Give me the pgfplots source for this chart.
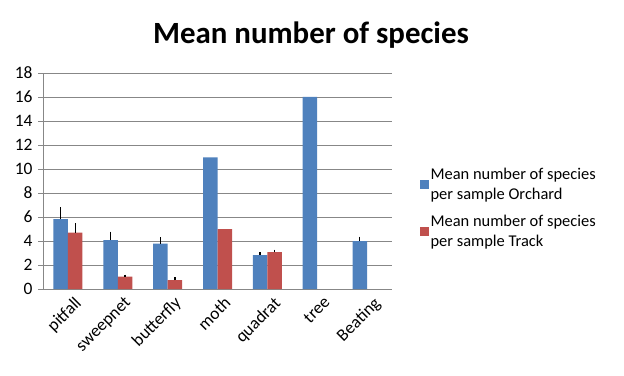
\documentclass[border=0pt]{standalone}
\usepackage{pgfplots}
\pgfplotsset{compat=1.18}
\usepackage{fontspec}
\setmainfont{Carlito}
\definecolor{cblue}{HTML}{4F81BD}
\definecolor{cred}{HTML}{C0504D}
\definecolor{cgrid}{HTML}{878787}
\begin{document}
\begin{tikzpicture}[x=1bp,y=1bp]
\useasboundingbox (0,0) rectangle (624,375);
\begin{axis}[
  at={(43bp,86bp)}, anchor=south west,
  scale only axis, width=349bp, height=216bp,
  ybar=0pt, bar width=14.5bp,
  xmin=-0.5, xmax=6.5, ymin=0, ymax=18,
  ytick={0,2,...,18},
  xtick={0,...,6},
  xticklabels={pitfall,sweepnet,butterfly,moth,quadrat,tree,Beating},
  x tick label style={rotate=45, anchor=north east, font=\fontsize{17.5}{20}\selectfont, inner sep=1bp, yshift=-4bp, xshift=4bp},
  y tick label style={font=\fontsize{17.5}{20}\selectfont, xshift=-2bp},
  /pgf/number format/assume math mode=true,
  major x tick style={draw=none},
  extra x ticks={-0.5,0.5,1.5,2.5,3.5,4.5,5.5,6.5},
  extra x tick labels={},
  extra x tick style={major tick length=5bp, tick style={draw=cgrid, line width=0.8bp}, tick align=outside, grid=none},
  ymajorgrids, grid style={cgrid, line width=0.8bp},
  axis x line*=bottom, axis y line*=left,
  axis line style={cgrid, line width=0.8bp, -},
  y tick style={cgrid, line width=0.8bp},
  tick align=outside, major tick length=5bp,
  legend style={at={(1.07,0.58)}, anchor=north west, draw=none, fill=none,
    font=\fontsize{16.5}{20}\selectfont, row sep=10bp,
    cells={align=left, anchor=west}},
  legend image code/.code={\fill[#1] (0bp,-4.5bp) rectangle (9bp,4.5bp);},
  error bars/error bar style={black, line width=1.3bp},
  error bars/error mark=none,
]
\addplot[fill=cblue, draw=none, error bars/.cd, y dir=plus, y explicit]
  coordinates {(0,5.83) +- (0,0.97) (1,4.08) +- (0,0.7) (2,3.78) +- (0,0.52) (3,10.97) (4,2.83) +- (0,0.25) (5,16) (6,4.0) +- (0,0.36)};
\addlegendentry{Mean number of species\\per sample Orchard}
\addplot[fill=cred, draw=none, error bars/.cd, y dir=plus, y explicit]
  coordinates {(0,4.69) +- (0,0.81) (1,1.03) +- (0,0.17) (2,0.75) +- (0,0.25) (3,5.0) (4,3.08) +- (0,0.2)};
\addlegendentry{Mean number of species\\per sample Track}
\end{axis}
\node[font=\fontsize{31}{36}\selectfont\bfseries, anchor=base] at (311,332) {Mean number of species};
\end{tikzpicture}
\end{document}
